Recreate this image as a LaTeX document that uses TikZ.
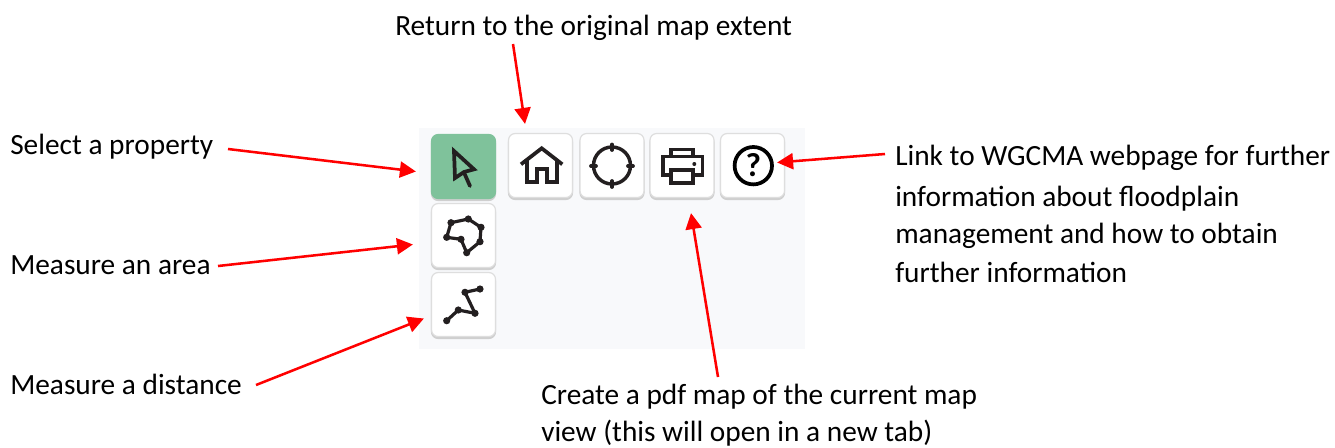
\documentclass[tikz,border=0pt]{standalone}
\usepackage{fontspec}
\setmainfont{Carlito}
\usetikzlibrary{arrows.meta}
\definecolor{arrowred}{HTML}{FF0000}
\definecolor{panelbg}{HTML}{F8F9FB}
\definecolor{selgreen}{HTML}{7FC29B}
\definecolor{iconink}{HTML}{231F20}
\definecolor{btnedge}{HTML}{DEDEDE}
\definecolor{btnshade}{HTML}{CFCFCF}
\tikzset{
 x=0.75pt,y=-0.75pt,
 lbl/.style={anchor=base west,inner sep=0pt,font=\fontsize{22pt}{26pt}\selectfont,text=black},
 btn/.style={draw=btnedge,line width=0.9pt,rounded corners=5pt,fill=white,minimum width=48pt,minimum height=48pt,inner sep=0pt,anchor=center,
   preaction={draw=btnshade,fill=btnshade,transform canvas={yshift=-1.5pt}}},
 callout/.style={draw=arrowred,line width=1.9pt,-{Triangle[length=12pt,width=12pt]}},
 icon/.style={draw=iconink,line width=2.8pt,line join=miter,line cap=butt},
 thinicon/.style={draw=iconink,line width=2.4pt,line join=round,line cap=round},
}
\begin{document}
\begin{tikzpicture}
\useasboundingbox (0,0) rectangle (1335,447);
\fill[white] (0,0) rectangle (1335,447);
\fill[panelbg] (419,128) rectangle (805,349);
% buttons
\node[btn,fill=selgreen,draw=selgreen] (bSelect) at (463.5,166.5) {};
\node[btn] (bHome) at (540.5,165.5) {};
\node[btn] (bTarget) at (612,165.5) {};
\node[btn] (bPrint) at (682,165.5) {};
\node[btn] (bHelp) at (752.5,165.5) {};
\node[btn] (bArea) at (463.5,235.5) {};
\node[btn] (bDist) at (463.5,304.5) {};
% select icon
\draw[icon] (454,151) -- (474,169.3) -- (464,172) -- (455,178) -- cycle;
\draw[icon,line cap=round] (464,172.5) -- (470,186);
% home icon
\draw[icon] (521,164.3) -- (541.7,148.3) -- (562.3,164.3);
\draw[icon] (527,160) -- (527,182) -- (536.7,182) -- (536.7,169.3) -- (546.7,169.3) -- (546.7,182) -- (556.7,182) -- (556.7,160);
% target icon
\draw[icon,line width=2.6pt] (bTarget.center) circle[radius=18.5];
\draw[icon,line cap=round] (612,144.5) -- (612,150) (612,181) -- (612,187) (591,166) -- (596,166) (628,166) -- (633,166);
% print icon
\draw[icon] (671,156) -- (671,149.5) -- (693.3,149.5) -- (693.3,156);
\draw[icon] (671,175) -- (663,175) -- (663,156.5) -- (702.5,156.5) -- (702.5,175) -- (693.3,175);
\draw[icon] (671,170) rectangle (693.3,183.3);
\fill[iconink] (694.3,164) circle[radius=2];
% help icon
\draw[black,line width=2.8pt] (753.3,165.7) circle[radius=18.7];
\node[inner sep=0pt,font=\fontsize{25pt}{25pt}\selectfont\bfseries,text=black] (qmark) at (753.3,165.5) {?};
% area icon
\coordinate (a1) at (446.7,237.3);
\coordinate (a2) at (451,222.7);
\coordinate (a3) at (468.3,219);
\coordinate (a4) at (481,227.3);
\coordinate (a5) at (480,241.7);
\coordinate (a6) at (466.7,252.7);
\coordinate (a7) at (461,239.3);
\draw[thinicon] (a1) -- (a2) -- (a3) -- (a4) -- (a5) -- (a6) -- (a7) -- cycle;
\foreach \p in {a1,a2,a3,a4,a5,a6,a7} \fill[iconink] (\p) circle[radius=3.6];
% distance icon
\coordinate (d1) at (446.7,320.7);
\coordinate (d2) at (458.3,310);
\coordinate (d3) at (475,313.3);
\coordinate (d4) at (465,292.3);
\coordinate (d5) at (480,289);
\draw[thinicon] (d1) -- (d2) -- (d3) -- (d4) -- (d5);
\foreach \p in {d1,d2,d3,d4,d5} \fill[iconink] (\p) circle[radius=3.6];
% labels
\node[lbl] (tReturn) at (395,35) {Return to the original map extent};
\node[lbl] (tSelect) at (10,154) {Select a property};
\node[lbl] (tArea) at (10,274.5) {Measure an area};
\node[lbl] (tDist) at (10,394.5) {Measure a distance};
\node[lbl] (tHelp1) at (895,165) {Link to WGCMA webpage for further};
\node[lbl] (tHelp2) at (895,206) {information about floodplain};
\node[lbl] (tHelp3) at (895,243) {management and how to obtain};
\node[lbl] (tHelp4) at (895,282) {further information};
\node[lbl] (tPdf1) at (541,404) {Create a pdf map of the current map};
\node[lbl] (tPdf2) at (541,441) {view (this will open in a new tab)};
% connectors
\coordinate (cReturn) at (513,44);
\coordinate (cSelect) at (228,149);
\coordinate (cArea) at (218,266);
\coordinate (cDist) at (256,385);
\coordinate (cPdf) at (718,377);
\coordinate (cHelp) at (885,154);
\draw[callout] (cReturn) -- ([shift={(-15.5,-9)}]bHome.north);
\draw[callout] (cSelect) -- ([shift={(-15,5)}]bSelect.west);
\draw[callout] (cArea) -- ([shift={(-18,9)}]bArea.west);
\draw[callout] (cDist) -- ([shift={(-7,14)}]bDist.west);
\draw[callout] (cPdf) -- ([shift={(9,15)}]bPrint.south);
\draw[callout] (cHelp) -- ([shift={(-8,-3)}]bHelp.east);
\end{tikzpicture}
\end{document}
